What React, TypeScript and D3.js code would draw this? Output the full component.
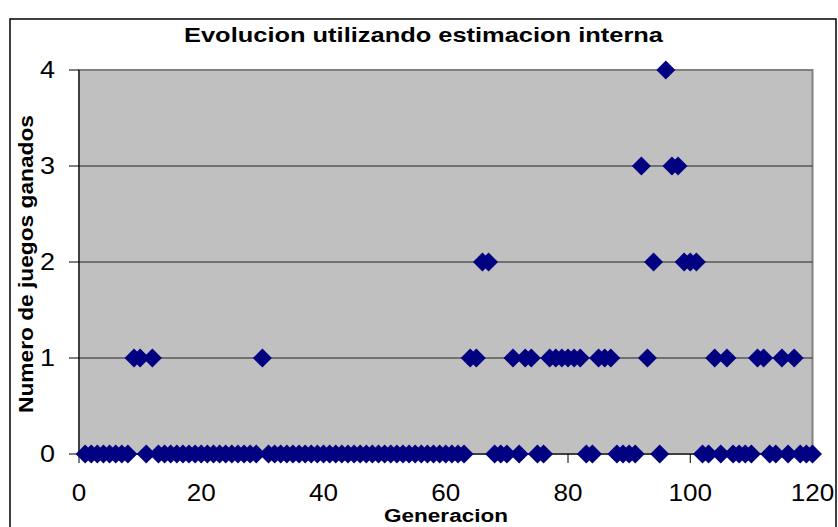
import React from "react";
import * as d3 from "d3";

// Games won per generation (generation 1..120)
const gamesWon: number[] = [
  0, 0, 0, 0, 0, 0, 0, 0, 1, 1,
  0, 1, 0, 0, 0, 0, 0, 0, 0, 0,
  0, 0, 0, 0, 0, 0, 0, 0, 0, 1,
  0, 0, 0, 0, 0, 0, 0, 0, 0, 0,
  0, 0, 0, 0, 0, 0, 0, 0, 0, 0,
  0, 0, 0, 0, 0, 0, 0, 0, 0, 0,
  0, 0, 0, 1, 1, 2, 2, 0, 0, 0,
  1, 0, 1, 1, 0, 0, 1, 1, 1, 1,
  1, 1, 0, 0, 1, 1, 1, 0, 0, 0,
  0, 3, 1, 2, 0, 4, 3, 3, 2, 2,
  2, 0, 0, 1, 0, 1, 0, 0, 0, 0,
  1, 1, 0, 0, 1, 0, 1, 0, 0, 0,
];
const generations: number[] = gamesWon.map((_, i) => i + 1);

const xTicks: number[] = [0, 20, 40, 60, 80, 100, 120];
const yTicks: number[] = [0, 1, 2, 3, 4];

const title = "Evolucion utilizando estimacion interna";
const xTitle = "Generacion";
const yTitle = "Numero de juegos ganados";

const W = 838;
const H = 527;
const plot = { left: 79, right: 812.5, top: 70, bottom: 454 };
const FONT = "'Liberation Sans', Arial, sans-serif";

export default function App() {
  const x = d3.scaleLinear().domain([0, 120]).range([plot.left, plot.right]);
  const y = d3.scaleLinear().domain([0, 4]).range([plot.bottom, plot.top]);
  const r = 9.5;
  const diamond = `M0,${-r}L${r},0L0,${r}L${-r},0Z`;

  return (
    <svg
      width={W}
      height={H}
      style={{ position: "absolute", left: 0, top: 0, background: "#fff" }}
    >
      {/* outer chart frame */}
      <rect x={10} y={19} width={826} height={530} fill="none" stroke="#000" strokeWidth={1.5} />

      <text
        x={(184 + 663) / 2}
        y={42}
        textAnchor="middle"
        fontFamily={FONT}
        fontWeight="bold"
        fontSize={21}
        textLength={479}
        lengthAdjust="spacingAndGlyphs"
      >
        {title}
      </text>

      {/* plot area */}
      <rect
        x={plot.left}
        y={plot.top}
        width={plot.right - plot.left}
        height={plot.bottom - plot.top}
        fill="#c0c0c0"
        stroke="#808080"
        strokeWidth={2}
      />

      {/* gridlines */}
      {yTicks
        .filter((t) => t > 0 && t < 4)
        .map((t) => (
          <line
            key={`g${t}`}
            x1={plot.left}
            x2={plot.right}
            y1={y(t)}
            y2={y(t)}
            stroke="#222"
            strokeWidth={1.2}
          />
        ))}

      {/* axes */}
      <line x1={plot.left} x2={plot.left} y1={plot.top} y2={plot.bottom} stroke="#000" strokeWidth={1} />
      <line x1={plot.left} x2={plot.right} y1={plot.bottom} y2={plot.bottom} stroke="#000" strokeWidth={1} />

      {yTicks.map((t) => (
        <g key={`y${t}`}>
          <line x1={plot.left - 10} x2={plot.left} y1={y(t)} y2={y(t)} stroke="#000" />
          <text
            x={55}
            y={y(t) + 8}
            textAnchor="end"
            fontFamily={FONT}
            fontSize={23}
            textLength={15}
            lengthAdjust="spacingAndGlyphs"
          >
            {t}
          </text>
        </g>
      ))}

      {xTicks.map((t) => (
        <g key={`x${t}`}>
          <line x1={x(t)} x2={x(t)} y1={plot.bottom} y2={plot.bottom + 9} stroke="#000" />
          <text
            x={x(t)}
            y={501}
            textAnchor="middle"
            fontFamily={FONT}
            fontSize={23}
            textLength={String(t).length * 14.5}
            lengthAdjust="spacingAndGlyphs"
          >
            {t}
          </text>
        </g>
      ))}

      <text
        x={446}
        y={522}
        textAnchor="middle"
        fontFamily={FONT}
        fontWeight="bold"
        fontSize={18}
        textLength={124}
        lengthAdjust="spacingAndGlyphs"
      >
        {xTitle}
      </text>

      <text
        transform={`translate(33,264) rotate(-90)`}
        textAnchor="middle"
        fontFamily={FONT}
        fontWeight="bold"
        fontSize={20}
        textLength={298}
        lengthAdjust="spacingAndGlyphs"
      >
        {yTitle}
      </text>

      {/* markers */}
      {generations.map((g, i) => (
        <path
          key={`m${g}`}
          d={diamond}
          transform={`translate(${x(g)},${y(gamesWon[i])})`}
          fill="#000080"
        />
      ))}
    </svg>
  );
}
